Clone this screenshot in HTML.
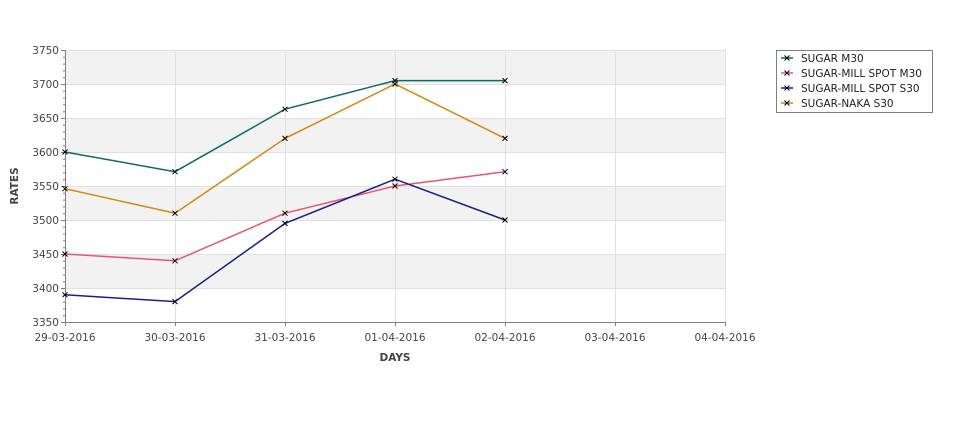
<!DOCTYPE html>
<html><head><meta charset="utf-8"><style>body{margin:0;background:#fff}svg{display:block;font-family:"DejaVu Sans","Liberation Sans",sans-serif}</style></head><body>
<svg width="975" height="429" viewBox="0 0 975 429">
<rect x="65" y="50" width="660" height="34" fill="#f2f2f2"/>
<rect x="65" y="118" width="660" height="34" fill="#f2f2f2"/>
<rect x="65" y="186" width="660" height="34" fill="#f2f2f2"/>
<rect x="65" y="254" width="660" height="34" fill="#f2f2f2"/>
<g stroke="#e0e0e0" stroke-width="1">
<line x1="65" y1="50.5" x2="725" y2="50.5"/><line x1="65" y1="84.5" x2="725" y2="84.5"/><line x1="65" y1="118.5" x2="725" y2="118.5"/><line x1="65" y1="152.5" x2="725" y2="152.5"/><line x1="65" y1="186.5" x2="725" y2="186.5"/><line x1="65" y1="220.5" x2="725" y2="220.5"/><line x1="65" y1="254.5" x2="725" y2="254.5"/><line x1="65" y1="288.5" x2="725" y2="288.5"/>
<line x1="175.5" y1="50" x2="175.5" y2="322"/><line x1="285.5" y1="50" x2="285.5" y2="322"/><line x1="395.5" y1="50" x2="395.5" y2="322"/><line x1="505.5" y1="50" x2="505.5" y2="322"/><line x1="615.5" y1="50" x2="615.5" y2="322"/><line x1="725.5" y1="50" x2="725.5" y2="322"/>
</g>
<g stroke="#808080" stroke-width="1">
<line x1="65.5" y1="50" x2="65.5" y2="322"/><line x1="65" y1="322.5" x2="725" y2="322.5"/>
<path d="M61 50.5h4M61 84.5h4M61 118.5h4M61 152.5h4M61 186.5h4M61 220.5h4M61 254.5h4M61 288.5h4M61 322.5h4"/>
<path d="M63 57.3h2M63 64.1h2M63 70.9h2M63 77.7h2M63 91.3h2M63 98.1h2M63 104.9h2M63 111.7h2M63 125.3h2M63 132.1h2M63 138.9h2M63 145.7h2M63 159.3h2M63 166.1h2M63 172.9h2M63 179.7h2M63 193.3h2M63 200.1h2M63 206.9h2M63 213.7h2M63 227.3h2M63 234.1h2M63 240.9h2M63 247.7h2M63 261.3h2M63 268.1h2M63 274.9h2M63 281.7h2M63 295.3h2M63 302.1h2M63 308.9h2M63 315.7h2"/>
<path d="M65.5 322v4M175.5 322v4M285.5 322v4M395.5 322v4M505.5 322v4M615.5 322v4M725.5 322v4"/>
</g>
<g font-size="10.5" fill="#444" text-anchor="end">
<text x="59" y="54">3750</text><text x="59" y="88">3700</text><text x="59" y="122">3650</text><text x="59" y="156">3600</text><text x="59" y="190">3550</text><text x="59" y="224">3500</text><text x="59" y="258">3450</text><text x="59" y="292">3400</text><text x="59" y="326">3350</text>
</g>
<g font-size="10.5" fill="#444" text-anchor="middle">
<text x="65" y="341">29-03-2016</text><text x="175" y="341">30-03-2016</text><text x="285" y="341">31-03-2016</text><text x="395" y="341">01-04-2016</text><text x="505" y="341">02-04-2016</text><text x="615" y="341">03-04-2016</text><text x="725" y="341">04-04-2016</text>
</g>
<text x="395" y="361" font-size="10.5" font-weight="bold" fill="#444" text-anchor="middle">DAYS</text>
<text transform="translate(18,186) rotate(-90)" font-size="10.5" font-weight="bold" fill="#444" text-anchor="middle">RATES</text>
<g fill="none" stroke-width="1.5">
<polyline stroke="#0d6b5e" points="65,152 175,171.7 285,109.2 395,80.6 505,80.6"/>
<polyline stroke="#e8566e" points="65,254 175,260.8 285,213.2 395,186 505,171.7"/>
<polyline stroke="#1c1c8c" points="65,294.8 175,301.6 285,223.4 395,179.2 505,220"/>
<polyline stroke="#d4860a" points="65,188.7 175,213.2 285,138.4 395,84 505,138.4"/>
</g>
<g stroke="#000" stroke-width="1">
<path d="M62.5 149.5l5 5M67.5 149.5l-5 5M172.5 169.2l5 5M177.5 169.2l-5 5M282.5 106.7l5 5M287.5 106.7l-5 5M392.5 78.1l5 5M397.5 78.1l-5 5M502.5 78.1l5 5M507.5 78.1l-5 5"/>
<path d="M62.5 251.5l5 5M67.5 251.5l-5 5M172.5 258.3l5 5M177.5 258.3l-5 5M282.5 210.7l5 5M287.5 210.7l-5 5M392.5 183.5l5 5M397.5 183.5l-5 5M502.5 169.2l5 5M507.5 169.2l-5 5"/>
<path d="M62.5 292.3l5 5M67.5 292.3l-5 5M172.5 299.1l5 5M177.5 299.1l-5 5M282.5 220.9l5 5M287.5 220.9l-5 5M392.5 176.7l5 5M397.5 176.7l-5 5M502.5 217.5l5 5M507.5 217.5l-5 5"/>
<path d="M62.5 186.2l5 5M67.5 186.2l-5 5M172.5 210.7l5 5M177.5 210.7l-5 5M282.5 135.9l5 5M287.5 135.9l-5 5M392.5 81.5l5 5M397.5 81.5l-5 5M502.5 135.9l5 5M507.5 135.9l-5 5"/>
</g>
<rect x="776.5" y="50.5" width="156" height="62" fill="#fff" stroke="#808080"/>
<g stroke-width="1.5">
<line x1="781" y1="58" x2="793" y2="58" stroke="#0d6b5e"/><line x1="781" y1="73" x2="793" y2="73" stroke="#e8566e"/><line x1="781" y1="88" x2="793" y2="88" stroke="#1c1c8c"/><line x1="781" y1="103" x2="793" y2="103" stroke="#d4860a"/>
</g>
<g stroke="#000" stroke-width="1">
<path d="M784.5 55.5l5 5M789.5 55.5l-5 5M784.5 70.5l5 5M789.5 70.5l-5 5M784.5 85.5l5 5M789.5 85.5l-5 5M784.5 100.5l5 5M789.5 100.5l-5 5"/>
</g>
<g font-size="10.5" fill="#222">
<text x="801" y="62">SUGAR M30</text><text x="801" y="77">SUGAR-MILL SPOT M30</text><text x="801" y="92">SUGAR-MILL SPOT S30</text><text x="801" y="107">SUGAR-NAKA S30</text>
</g>
</svg>
</body></html>
